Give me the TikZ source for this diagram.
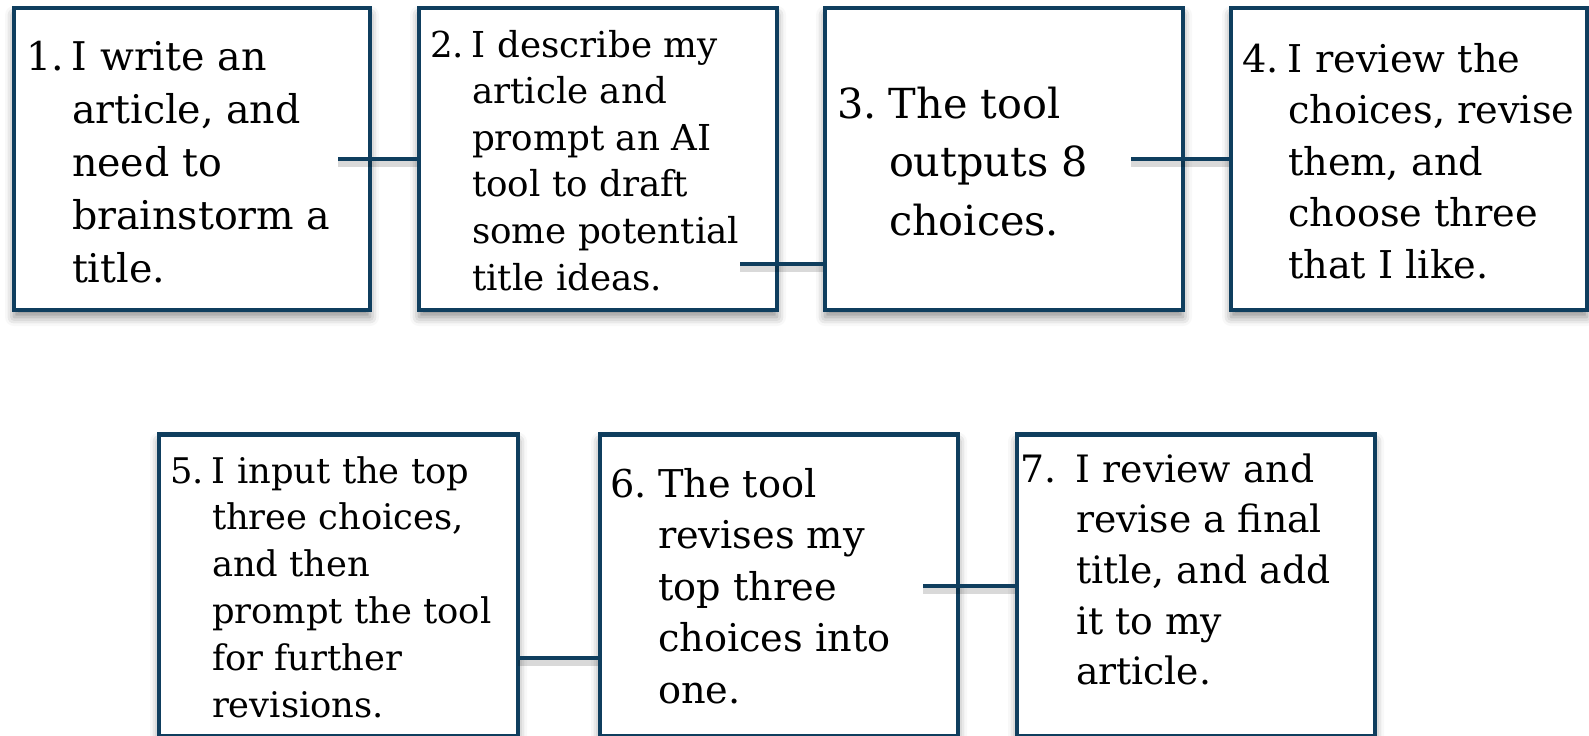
\documentclass[tikz,border=0pt]{standalone}
\usepackage{fontspec}
\setmainfont{DejaVu Serif}[Scale=0.92]
\usetikzlibrary{shadows.blur}
\definecolor{edge}{RGB}{15,62,94}
\newcommand\nb[2]{\makebox[#1][l]{#2}}
\newcommand\fs[2]{\fontsize{#1}{#2}\selectfont}
\begin{document}
\begin{tikzpicture}[x=0.5pt,y=-0.5pt,
  box/.style={draw=edge, line width=2.3pt, fill=white, minimum width=179pt,
    minimum height=151pt, inner sep=0pt,
    blur shadow={shadow xshift=0pt, shadow yshift=-3.5pt, shadow blur radius=4.5pt, shadow opacity=45}},
  txt/.style={anchor=base west, inner sep=0pt, outer sep=0pt, text=black},
  conn/.style={draw=edge, line width=2.3pt},
  connshadow/.style={draw=black, opacity=0.15, line width=3pt, transform canvas={yshift=-2.5pt}}
]
\useasboundingbox (0,0) rectangle (1589,735);

% boxes
\node[box, minimum width=178pt] (b1) at (192,159) {};
\node[box] (b2) at (598,159) {};
\node[box] (b3) at (1004,159) {};
\node[box, minimum width=178pt] (b4) at (1409,159) {};
\node[box, minimum width=179.5pt] (b5) at (338.5,585.5) {};
\node[box] (b6) at (779,585.5) {};
\node[box] (b7) at (1196,585.5) {};

% connector start points
\coordinate (s12) at (338,159);
\coordinate (s23) at (740,264);
\coordinate (s34) at (1131,159);
\coordinate (s56) at (518,658);
\coordinate (s67) at (923,586);

% connector shadows
\draw[connshadow] (s12) -- (s12 -| b2.west);
\draw[connshadow] (s23) -- (s23 -| b3.west);
\draw[connshadow] (s34) -- (s34 -| b4.west);
\draw[connshadow] (s56) -- (s56 -| b6.west);
\draw[connshadow] (s67) -- (s67 -| b7.west);

% connectors
\draw[conn] (s12) -- (s12 -| b2.west);
\draw[conn] (s23) -- (s23 -| b3.west);
\draw[conn] (s34) -- (s34 -| b4.west);
\draw[conn] (s56) -- (s56 -| b6.west);
\draw[conn] (s67) -- (s67 -| b7.west);

% texts
\node[txt] (t1) at (26,70) {\fs{21.5}{26.5}\begin{tabular}[t]{@{}l@{}l@{}}
\nb{23pt}{1.} & I write an\\ & article, and\\ & need to\\ & brainstorm a\\ & title.\end{tabular}};

\node[txt] (t2) at (430,57) {\fs{19.4}{23.3}\begin{tabular}[t]{@{}l@{}l@{}}
\nb{21pt}{2.} & I describe my\\ & article and\\ & prompt an AI\\ & tool to draft\\ & some potential\\ & title ideas.\end{tabular}};

\node[txt] (t3) at (837,118) {\fs{22.5}{29.25}\begin{tabular}[t]{@{}l@{}l@{}}
\nb{26pt}{3.} & The tool\\ & outputs 8\\ & choices.\end{tabular}};

\node[txt] (t4) at (1242,72) {\fs{20.8}{25.75}\begin{tabular}[t]{@{}l@{}l@{}}
\nb{23pt}{4.} & I review the\\ & choices, revise\\ & them, and\\ & choose three\\ & that I like.\end{tabular}};

\node[txt] (t5) at (170,483) {\fs{19.2}{23.4}\begin{tabular}[t]{@{}l@{}l@{}}
\nb{21pt}{5.} & I input the top\\ & three choices,\\ & and then\\ & prompt the tool\\ & for further\\ & revisions.\end{tabular}};

\node[txt] (t6) at (610,497) {\fs{20.8}{25.75}\begin{tabular}[t]{@{}l@{}l@{}}
\nb{24pt}{6.} & The tool\\ & revises my\\ & top three\\ & choices into\\ & one.\end{tabular}};

\node[txt] (t7) at (1020,482) {\fs{20.5}{25.35}\begin{tabular}[t]{@{}l@{}l@{}}
\nb{28pt}{7.} & I review and\\ & revise a final\\ & title, and add\\ & it to my\\ & article.\end{tabular}};
\end{tikzpicture}
\end{document}
